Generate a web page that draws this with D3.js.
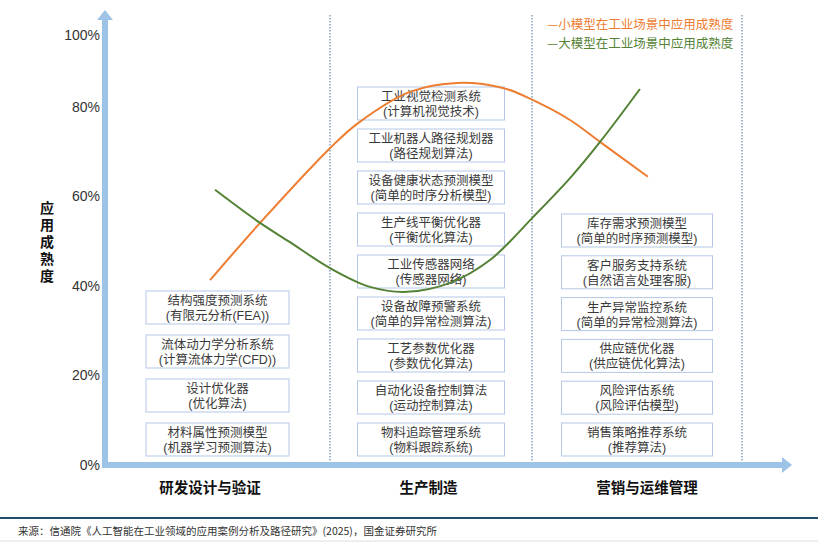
<!DOCTYPE html>
<html>
<head>
<meta charset="utf-8">
<script src="https://cdn.jsdelivr.net/npm/d3@7"></script>
<style>
  body { margin: 0; background: #fff; }
  svg { display: block; font-family: "Noto Sans CJK SC", "Liberation Sans", sans-serif; }
</style>
</head>
<body>
<div id="chart"></div>
<script>
// categories along the x axis
var categories = ["研发设计与验证", "生产制造", "营销与运维管理"];

// y axis ticks (percent)
var yTicks = [0, 20, 40, 60, 80, 100];

// curves: x is position in category units (column i spans i..i+1), y is maturity %
var smallModelX = [0.467, 0.689, 1.0, 1.139, 1.396, 1.629, 1.856, 2.005, 2.181, 2.324, 2.552];
var smallModelY = [41.3, 54.1, 70.8, 76.4, 84.2, 86.7, 85.3, 81.9, 77.1, 72.2, 64.4];
var largeModelX = [0.489, 0.689, 0.822, 1.0, 1.198, 1.381, 1.594, 1.792, 2.005, 2.181, 2.324, 2.514];
var largeModelY = [61.5, 54.1, 49.8, 44.0, 39.8, 38.7, 40.7, 45.8, 55.4, 64.1, 72.2, 85.0];

var legendLabels = ["小模型在工业场景中应用成熟度", "大模型在工业场景中应用成熟度"];

// application boxes per column, top to bottom
var rdBoxes = [
  ["结构强度预测系统", "(有限元分析(FEA))"],
  ["流体动力学分析系统", "(计算流体力学(CFD))"],
  ["设计优化器", "(优化算法)"],
  ["材料属性预测模型", "(机器学习预测算法)"]
];
var prodBoxes = [
  ["工业视觉检测系统", "(计算机视觉技术)"],
  ["工业机器人路径规划器", "(路径规划算法)"],
  ["设备健康状态预测模型", "(简单的时序分析模型)"],
  ["生产线平衡优化器", "(平衡优化算法)"],
  ["工业传感器网络", "(传感器网络)"],
  ["设备故障预警系统", "(简单的异常检测算法)"],
  ["工艺参数优化器", "(参数优化算法)"],
  ["自动化设备控制算法", "(运动控制算法)"],
  ["物料追踪管理系统", "(物料跟踪系统)"]
];
var opsBoxes = [
  ["库存需求预测模型", "(简单的时序预测模型)"],
  ["客户服务支持系统", "(自然语言处理客服)"],
  ["生产异常监控系统", "(简单的异常检测算法)"],
  ["供应链优化器", "(供应链优化算法)"],
  ["风险评估系统", "(风险评估模型)"],
  ["销售策略推荐系统", "(推荐算法)"]
];

var sourceText = "来源：信通院《人工智能在工业领域的应用案例分析及路径研究》(2025)，国金证券研究所";

var svgWidth = 818, svgHeight = 543;
var axisColor = "#9dc3e6";
var orange = "#ed7d31", green = "#548235";
// tight-metric font first, CJK glyphs fall back to Noto
var tightFont = "'Liberation Sans', 'Noto Sans CJK SC', sans-serif";

var svg = d3.select("#chart").append("svg")
  .attr("width", svgWidth)
  .attr("height", svgHeight);

// scales
var x = d3.scaleLinear().domain([0, 1, 2, 3]).range([105, 330, 532, 742]);
var y = d3.scaleLinear().domain([0, 80, 100]).range([465, 107, 35]);
var xLabel = d3.scalePoint().domain(categories).range([210, 647]);

// dotted column separators
svg.selectAll(".sep")
  .data([1, 2, 3])
  .enter().append("line")
  .attr("x1", d => x(d)).attr("x2", d => x(d))
  .attr("y1", 15).attr("y2", 462)
  .attr("stroke", "#6f88b5")
  .attr("stroke-width", 1.2)
  .attr("stroke-dasharray", "1.5,1.5");

// y axis ticks
var yAxis = d3.axisLeft(y).tickValues(yTicks).tickSize(0).tickPadding(0).tickFormat(d => d + "%");
var yG = svg.append("g").attr("transform", "translate(100,0)").call(yAxis);
yG.select(".domain").remove();
yG.selectAll("text")
  .attr("font-family", "'Liberation Sans', Arial, sans-serif")
  .attr("font-size", "14px")
  .attr("fill", "#333");

// y axis title (vertical characters)
var yTitle = "应用成熟度".split("");
svg.append("g").selectAll("text")
  .data(yTitle)
  .enter().append("text")
  .attr("x", 47)
  .attr("y", (d, i) => 213 + i * 17)
  .attr("text-anchor", "middle")
  .attr("font-family", tightFont)
  .attr("font-size", "14px")
  .attr("font-weight", "bold")
  .attr("fill", "#111")
  .text(d => d);

// arrows for axes
var ax0 = x(0), ay0 = y(0);
svg.append("path")
  .attr("d", `M${ax0 - 3},${ay0 + 3} L${ax0 - 3},20 L${ax0 - 8},20 L${ax0},10 L${ax0 + 8},20 L${ax0 + 3},20 L${ax0 + 3},${ay0 + 3} Z`)
  .attr("fill", axisColor);
svg.append("path")
  .attr("d", `M${ax0 - 3},${ay0 - 3} L782,${ay0 - 3} L782,${ay0 - 8} L792,${ay0} L782,${ay0 + 8} L782,${ay0 + 3} L${ax0 - 3},${ay0 + 3} Z`)
  .attr("fill", axisColor);

// category labels
svg.append("g").selectAll("text")
  .data(categories)
  .enter().append("text")
  .attr("x", d => xLabel(d))
  .attr("y", 493)
  .attr("text-anchor", "middle")
  .attr("font-size", "14.5px")
  .attr("font-weight", "bold")
  .attr("fill", "#111")
  .text(d => d);

// boxes
var bottomTop = 423, boxH = 33;
function drawBoxes(list, col, width, step) {
  var cx = x(col + 0.5);
  var n = list.length;
  var g = svg.append("g").selectAll("g")
    .data(list)
    .enter().append("g")
    .attr("transform", (d, i) => `translate(${cx - width / 2}, ${bottomTop - (n - 1 - i) * step})`);
  g.append("rect")
    .attr("width", width).attr("height", boxH)
    .attr("fill", "#fff")
    .attr("stroke", "#b4c7e7")
    .attr("stroke-width", 1);
  var t = g.append("text")
    .attr("text-anchor", "middle")
    .attr("font-family", tightFont)
    .attr("font-size", "12.5px")
    .attr("fill", "#3a3a3a");
  t.append("tspan").attr("x", width / 2).attr("y", 14).text(d => d[0]);
  t.append("tspan").attr("x", width / 2).attr("y", 29).text(d => d[1]);
}
drawBoxes(rdBoxes, 0, 143, 44);
drawBoxes(prodBoxes, 1, 147, 42);
drawBoxes(opsBoxes, 2, 151, 41.8);

// curves
var line = d3.line()
  .x(d => x(d[0]))
  .y(d => y(d[1]))
  .curve(d3.curveCatmullRom.alpha(0.5));

svg.append("path")
  .datum(d3.zip(smallModelX, smallModelY))
  .attr("d", line)
  .attr("fill", "none")
  .attr("stroke", orange)
  .attr("stroke-width", 2);

svg.append("path")
  .datum(d3.zip(largeModelX, largeModelY))
  .attr("d", line)
  .attr("fill", "none")
  .attr("stroke", green)
  .attr("stroke-width", 2);

// legend
svg.append("g").selectAll("text")
  .data(legendLabels)
  .enter().append("text")
  .attr("x", 547)
  .attr("y", (d, i) => 29 + i * 19)
  .attr("font-size", "12.5px")
  .attr("fill", (d, i) => i === 0 ? orange : green)
  .text(d => "—" + d);

// footer
svg.append("line")
  .attr("x1", 0).attr("x2", svgWidth)
  .attr("y1", 518).attr("y2", 518)
  .attr("stroke", "#1f4e6e")
  .attr("stroke-width", 2);

svg.append("text")
  .attr("x", 18).attr("y", 535)
  .attr("font-size", "10.5px")
  .attr("fill", "#333")
  .text(sourceText);

svg.append("line")
  .attr("x1", 0).attr("x2", svgWidth)
  .attr("y1", 541).attr("y2", 541)
  .attr("stroke", "#ddd")
  .attr("stroke-width", 1);
</script>
</body>
</html>
